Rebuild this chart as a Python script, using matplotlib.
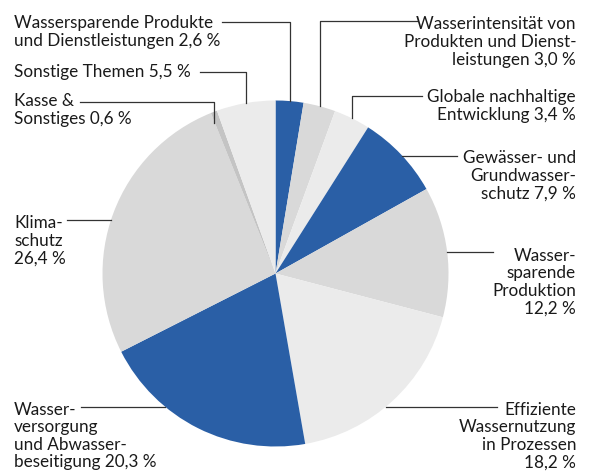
import numpy as np
import matplotlib.pyplot as plt

plt.rcParams['font.family'] = ['Lato', 'DejaVu Sans']

# slices, clockwise from 12 o'clock
names = ["Wassersparende Produkte\nund Dienstleistungen",
         "Wasserintensität von\nProdukten und Dienst-\nleistungen",
         "Globale nachhaltige\nEntwicklung",
         "Gewässer- und\nGrundwasser-\nschutz",
         "Wasser-\nsparende\nProduktion\n",
         "Effiziente\nWassernutzung\nin Prozessen\n",
         "Wasser-\nversorgung\nund Abwasser-\nbeseitigung",
         "Klima-\nschutz\n",
         "Kasse &\nSonstiges",
         "Sonstige Themen"]
shares = [2.6, 3.0, 3.4, 7.9, 12.2, 18.2, 20.3, 26.4, 0.6, 5.5]

blue = '#2a5fa6'
mid = '#d9d9d9'
light = '#ebebeb'
colors = [blue, mid, light, blue, mid, light, blue, mid, '#c4c4c4', light]

# label layout (pixels): text x, block centre y, alignment, leader y, leader start x, kind, inset
layout = [
    (14, 32, 'left', 22, 222, 'elbow', 0),
    (576, 42, 'right', 21, 417, 'elbow', 0),
    (576, 106, 'right', 96, 422, 'elbow', 0),
    (576, 176, 'right', 156, 457, 'flat', 0),
    (576, 282, 'right', 252, 493, 'flat', 0),
    (576, 436, 'right', 407, 497, 'flat', 0),
    (14, 436, 'left', 407, 81, 'flat', 0),
    (14, 241, 'left', 220, 67, 'flat', 0),
    (14, 110, 'left', 102, 80, 'elbow', 10),
    (14, 72, 'left', 72, 200, 'elbow', 0),
]

cx, cy, r = 275.5, 273.5, 173

fig = plt.figure(figsize=(5.9, 4.74), dpi=100)
ax = fig.add_axes([0, 0, 1, 1])

# y axis points down, so counterclock in data is clockwise on screen
wedges, _ = ax.pie(shares, colors=colors, startangle=270, counterclock=True,
                   center=(cx, cy), radius=r,
                   wedgeprops=dict(linewidth=0))
ax.set_xlim(0, 590)
ax.set_ylim(474, 0)
ax.set_aspect('equal')
ax.axis('off')

line_col = '#333333'
for w, name, val, (tx, ty, ha, ly, lx, kind, inset) in zip(wedges, names, shares, layout):
    pct = f"{val:.1f}".replace('.', ',') + " %"
    sep = "" if name.endswith("\n") else " "
    ax.text(tx, ty, name + sep + pct, ha=ha, va='center', fontsize=12.3,
            color='#1a1a1a', linespacing=1.12, multialignment=ha)

    if kind == 'elbow':
        m = np.deg2rad((w.theta1 + w.theta2) / 2)
        axx = cx + r * np.cos(m)
        re = r - inset
        ayy = cy - np.sqrt(re ** 2 - (axx - cx) ** 2)
        ax.plot([lx, axx, axx], [ly, ly, ayy], color=line_col, lw=0.9)
    else:
        dx = np.sqrt(r ** 2 - (ly - cy) ** 2)
        ex = cx + dx if ha == 'right' else cx - dx
        ax.plot([lx, ex], [ly, ly], color=line_col, lw=0.9)

fig.savefig('out.png', dpi=100)
